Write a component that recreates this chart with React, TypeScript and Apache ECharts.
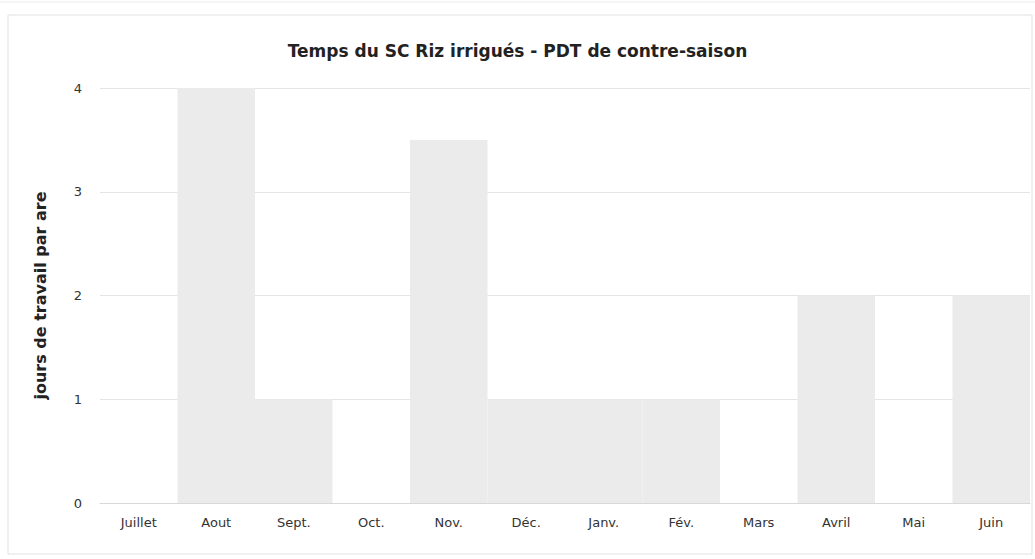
import React, { useEffect, useRef } from "react";
import * as echarts from "echarts";

const categories = ["Juillet", "Aout", "Sept.", "Oct.", "Nov.", "Déc.", "Janv.", "Fév.", "Mars", "Avril", "Mai", "Juin"];
const values = [0, 4, 1, 0, 3.5, 1, 1, 1, 0, 2, 0, 2];
const titleText = "Temps du SC Riz irrigués - PDT de contre-saison";
const yAxisName = "jours de travail par are";

export default function App() {
  const ref = useRef<HTMLDivElement>(null);
  useEffect(() => {
    if (!ref.current) return;
    const chart = echarts.init(ref.current, null, { renderer: "svg" });
    chart.setOption({
      animation: false,
      backgroundColor: "#ffffff",
      title: {
        text: titleText,
        left: "center",
        top: 37,
        textStyle: { fontFamily: "DejaVu Sans", fontSize: 17, fontWeight: "bold", color: "#222" },
      },
      graphic: [
        {
          type: "rect",
          shape: { x: 8, y: 15, width: 1024, height: 539 },
          style: { fill: "none", stroke: "#e2e2e2", lineWidth: 1 },
          silent: true,
        },
        {
          type: "line",
          shape: { x1: 0, y1: 2, x2: 1035, y2: 2 },
          style: { stroke: "#ececec", lineWidth: 1 },
          silent: true,
        },
      ],
      grid: { left: 100, right: 5, top: 88, bottom: 56 },
      xAxis: {
        type: "category",
        data: categories,
        axisTick: { show: false },
        axisLine: { lineStyle: { color: "#d8d8d8" } },
        axisLabel: { color: "#333", fontFamily: "DejaVu Sans", fontSize: 13, margin: 13 },
      },
      yAxis: {
        type: "value",
        min: 0,
        max: 4,
        interval: 1,
        name: yAxisName,
        nameLocation: "middle",
        nameGap: 52,
        nameTextStyle: { fontFamily: "DejaVu Sans", fontSize: 16, fontWeight: "bold", color: "#222" },
        axisLine: { show: false },
        axisTick: { show: false },
        axisLabel: { color: "#333", fontFamily: "DejaVu Sans", fontSize: 13, margin: 18 },
        splitLine: { lineStyle: { color: "#e4e4e4" } },
      },
      series: [
        {
          type: "bar",
          data: values,
          barCategoryGap: "0%",
          itemStyle: { color: "#ebebeb" },
        },
      ],
    });
    return () => chart.dispose();
  }, []);
  return <div ref={ref} style={{ position: "fixed", left: 0, top: 0, width: 1035, height: 559 }} />;
}
